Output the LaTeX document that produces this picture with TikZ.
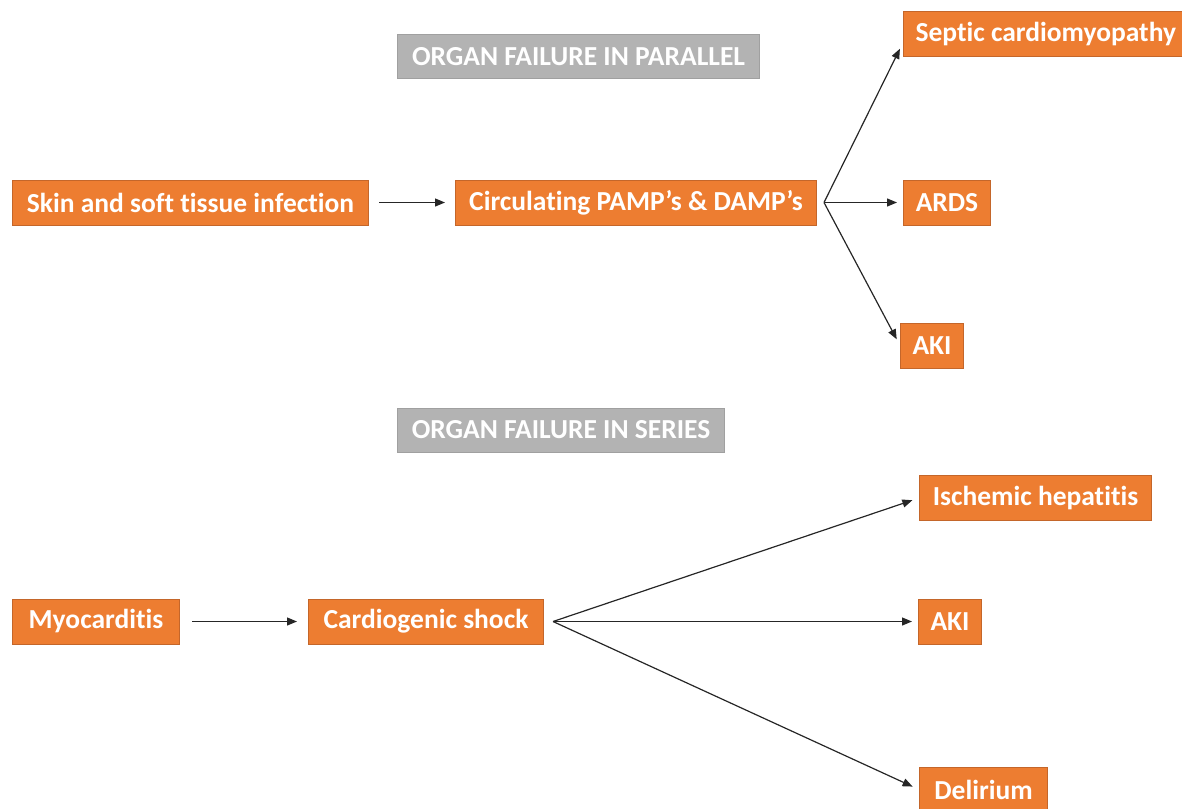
\documentclass[tikz,border=0pt]{standalone}
\usepackage{fontspec}
\setmainfont[Ligatures=NoCommon]{Carlito}
\usetikzlibrary{positioning,arrows.meta}
\definecolor{organorange}{RGB}{237,125,49}
\definecolor{organedge}{RGB}{196,102,42}
\definecolor{headgray}{RGB}{179,179,179}
\definecolor{headedge}{RGB}{160,160,160}

\begin{document}
\begin{tikzpicture}[x=1pt,y=-1pt,
  organ/.style={fill=organorange,draw=organedge,line width=1pt,text=white,
    font=\fontsize{27.5}{32}\selectfont\bfseries,minimum height=45pt,
    inner xsep=12pt,anchor=west},
  heading/.style={fill=headgray,draw=headedge,line width=1pt,text=white,
    font=\fontsize{27.5}{32}\selectfont\bfseries,minimum height=44pt,
    inner xsep=12pt,anchor=west},
  link/.style={-{Triangle[length=10pt,width=8pt]},line width=1.2pt,black!85}]
\useasboundingbox (0,0) rectangle (1182,808);

% Parallel
\node[heading,minimum width=362pt] (headpar) at (397,56.5) {ORGAN FAILURE IN PARALLEL};
\node[organ,minimum width=356pt] (skin) at (12,202.5) {Skin and soft tissue infection};
\node[organ,minimum width=361pt] (pamp) at (455,202.5) {Circulating PAMP’s \& DAMP’s};
\node[organ] (septic) at (903,34.5) {Septic cardiomyopathy};
\node[organ,minimum width=87pt] (ards) at (903,202.5) {ARDS};
\node[organ,minimum width=63pt] (akipar) at (900,345.5) {AKI};

\coordinate (forkpar) at ([xshift=7pt]pamp.east);
\draw[link,shorten <=10pt,shorten >=10pt] (skin.east) -- (pamp.west);
\draw[link,shorten >=7pt] (forkpar) -- ([yshift=-8pt]septic.west);
\draw[link,shorten >=6pt] (forkpar) -- (ards.west);
\draw[link,shorten >=7pt] (forkpar) -- (akipar.west);

% Series
\node[heading,minimum width=327pt] (headser) at (397,430) {ORGAN FAILURE IN SERIES};
\node[organ,minimum width=167pt] (myo) at (12,621.5) {Myocarditis};
\node[organ,minimum width=235pt] (shock) at (308,621.5) {Cardiogenic shock};
\node[organ,minimum width=232pt] (hepat) at (919,498) {Ischemic hepatitis};
\node[organ,minimum width=62pt] (akiser) at (918,621.5) {AKI};
\node[organ,minimum width=128pt] (delir) at (919,789.5) {Delirium};

\coordinate (forkser) at ([xshift=9pt]shock.east);
\draw[link,shorten <=12pt,shorten >=11pt] (myo.east) -- (shock.west);
\draw[link,shorten >=7pt] (forkser) -- (hepat.west);
\draw[link,shorten >=6pt] (forkser) -- (akiser.west);
\draw[link,shorten >=7pt] (forkser) -- (delir.west);
\end{tikzpicture}
\end{document}
